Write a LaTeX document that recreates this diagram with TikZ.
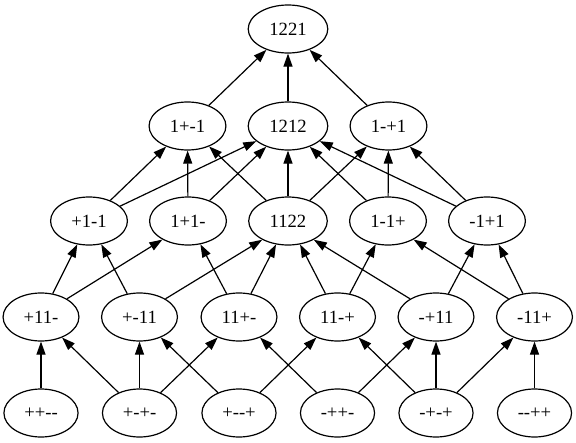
\documentclass[tikz,border=0pt]{standalone}
\usepackage{fontspec}
\newfontfamily\lbl{Liberation Serif}
\usetikzlibrary{shapes.geometric,arrows.meta}
\begin{document}
\begin{tikzpicture}[x=0.75pt,y=-0.75pt,
  st/.style={ellipse,draw,line width=0.9pt,inner xsep=7.1pt,inner ysep=3pt,minimum height=36pt,font=\lbl\fontsize{14pt}{16pt}\selectfont},
  ar/.style={line width=0.9pt,-{Triangle[length=9.75pt,width=6.75pt]}}]
\useasboundingbox (0,0) rectangle (576,443);
% row 0
\node[st] (n1221) at (288,29) {1221};
% row 1
\node[st] (n1pm1) at (187.5,126) {1+-1};
\node[st] (n1212) at (288,126) {1212};
\node[st] (n1mp1) at (388.5,126) {1-+1};
% row 2
\node[st] (p1m1) at (89,221) {+1-1};
\node[st] (n1p1m) at (188,221) {1+1-};
\node[st] (n1122) at (288,221) {1122};
\node[st] (n1m1p) at (388,221) {1-1+};
\node[st] (m1p1) at (487,221) {-1+1};
% row 3
\node[st] (p11m) at (41,317) {+11-};
\node[st] (pm11) at (139.5,317) {+-11};
\node[st] (n11pm) at (239,317) {11+-};
\node[st] (n11mp) at (337.5,317) {11-+};
\node[st] (mp11) at (436,317) {-+11};
\node[st] (m11p) at (534.5,317) {-11+};
% row 4
\node[st] (ppmm) at (41,413) {++-\kern0pt-};
\node[st] (pmpm) at (139.5,413) {+-+-};
\node[st] (pmmp) at (239,413) {+--+};
\node[st] (mppm) at (337.5,413) {-++-};
\node[st] (mpmp) at (436,413) {-+-+};
\node[st] (mmpp) at (534.5,413) {-\kern0pt-++};
% row 4 -> row 3
\draw[ar] (ppmm) -- (p11m);
\draw[ar] (pmpm) -- (p11m);
\draw[ar] (pmpm) -- (pm11);
\draw[ar] (pmpm) -- (n11pm);
\draw[ar] (pmmp) -- (pm11);
\draw[ar] (pmmp) -- (n11mp);
\draw[ar] (mppm) -- (n11pm);
\draw[ar] (mppm) -- (mp11);
\draw[ar] (mpmp) -- (n11mp);
\draw[ar] (mpmp) -- (mp11);
\draw[ar] (mpmp) -- (m11p);
\draw[ar] (mmpp) -- (m11p);
% row 3 -> row 2
\draw[ar] (p11m) -- (p1m1);
\draw[ar] (p11m.35) -- (n1p1m.216);
\draw[ar] (pm11) -- (p1m1);
\draw[ar] (pm11.35) -- (n1122.216);
\draw[ar] (n11pm) -- (n1p1m);
\draw[ar] (n11pm) -- (n1122);
\draw[ar] (n11mp) -- (n1122);
\draw[ar] (n11mp) -- (n1m1p);
\draw[ar] (mp11.145) -- (n1122.324);
\draw[ar] (mp11) -- (m1p1);
\draw[ar] (m11p.145) -- (n1m1p.324);
\draw[ar] (m11p) -- (m1p1);
% row 2 -> row 1
\draw[ar] (p1m1) -- (n1pm1);
\draw[ar] (p1m1) -- (n1212);
\draw[ar] (n1p1m) -- (n1pm1);
\draw[ar] (n1p1m) -- (n1212);
\draw[ar] (n1122) -- (n1pm1);
\draw[ar] (n1122) -- (n1212);
\draw[ar] (n1122) -- (n1mp1);
\draw[ar] (n1m1p) -- (n1212);
\draw[ar] (n1m1p) -- (n1mp1);
\draw[ar] (m1p1) -- (n1212);
\draw[ar] (m1p1) -- (n1mp1);
% row 1 -> row 0
\draw[ar] (n1pm1) -- (n1221);
\draw[ar] (n1212) -- (n1221);
\draw[ar] (n1mp1) -- (n1221);
\end{tikzpicture}
\end{document}
